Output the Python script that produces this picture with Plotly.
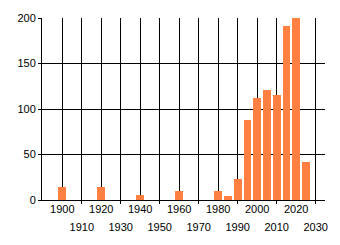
import plotly.graph_objects as go

years = [1900, 1920, 1940, 1960, 1980, 1985, 1990, 1995, 2000, 2005, 2010, 2015, 2020, 2025]
counts = [14, 14, 5, 10, 10, 4, 23, 88, 112, 121, 115, 191, 200, 42]

tick_years = list(range(1900, 2031, 10))
row1_labels = [str(y) if (y // 10) % 2 == 0 else "" for y in tick_years]
row2_years = [y for y in tick_years if (y // 10) % 2 == 1]
row2_labels = [str(y) for y in row2_years]
y_ticks = [0, 50, 100, 150, 200]
x_range = [1889.6, 2034.8]

fig = go.Figure()
fig.add_trace(go.Bar(
    x=years, y=counts, width=4,
    marker=dict(color="#ff8040", line=dict(width=0)),
))
# invisible helper trace so the second (staggered label) axis is drawn
fig.add_trace(go.Scatter(
    x=row2_years, y=[0] * len(row2_years), xaxis="x2", yaxis="y",
    mode="markers", marker=dict(opacity=0), hoverinfo="skip",
))

fig.update_layout(
    width=340, height=245,
    margin=dict(l=42, r=15, t=15, b=44),
    paper_bgcolor="white", plot_bgcolor="white",
    font=dict(family="Liberation Sans, Arial, sans-serif", size=11, color="black"),
    showlegend=False,
    bargap=0,
    xaxis=dict(
        range=x_range,
        tickvals=tick_years, ticktext=row1_labels,
        showgrid=True, gridcolor="black", gridwidth=1,
        showline=True, linecolor="black", linewidth=1,
        ticks="", zeroline=False, tickangle=0,
        ticklabelstandoff=-1,
    ),
    xaxis2=dict(
        overlaying="x", side="bottom", anchor="y",
        range=x_range,
        tickvals=row2_years, ticktext=row2_labels,
        showgrid=False, showline=False, zeroline=False,
        ticks="outside", ticklen=3, tickcolor="black", tickangle=0,
        ticklabelstandoff=14,
    ),
    yaxis=dict(
        range=[0, 200],
        tickvals=y_ticks,
        showgrid=True, gridcolor="black", gridwidth=1,
        showline=True, linecolor="black", linewidth=1,
        ticks="outside", ticklen=3, tickcolor="black",
        zeroline=False,
    ),
)

fig.write_html("out.html")
